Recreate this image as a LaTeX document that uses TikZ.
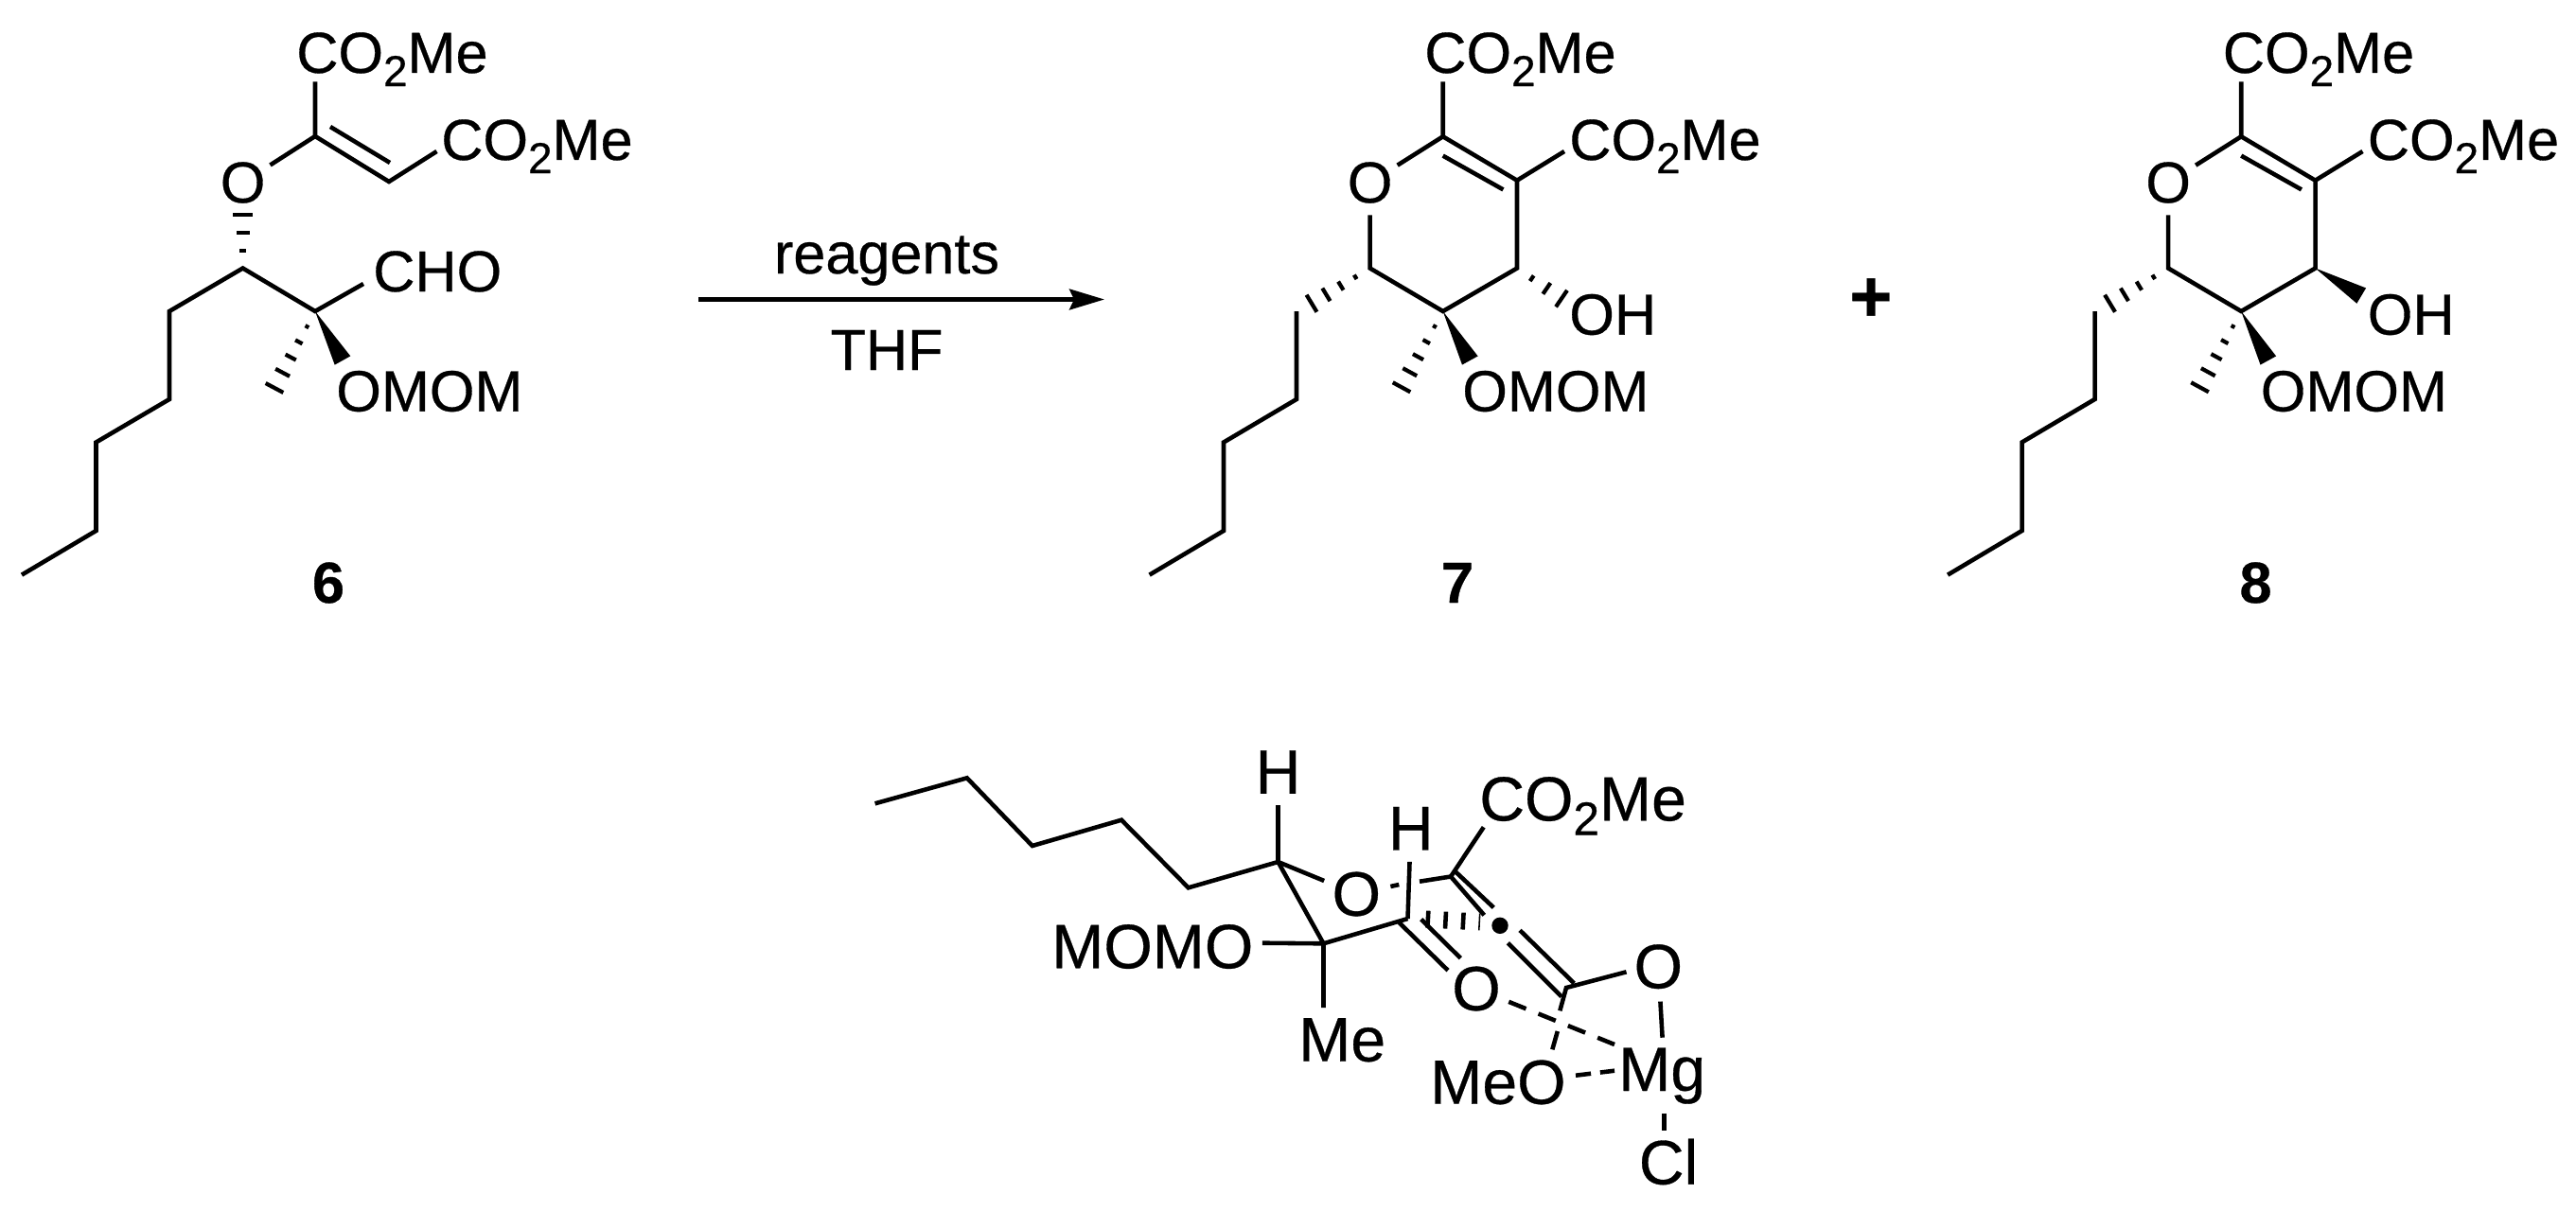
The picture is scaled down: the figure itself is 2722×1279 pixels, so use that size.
\documentclass[tikz,border=0pt]{standalone}
\usepackage{fontspec}
\usepackage{tikz}
\usetikzlibrary{calc,arrows.meta}
\setmainfont{Liberation Sans}[FakeBold=.5]
\tikzstyle{lab}=[anchor=base west,inner sep=0pt,font=\fontsize{17.4}{20}\selectfont]
\tikzstyle{atm}=[circle,inner sep=0pt,font=\fontsize{17.4}{20}\selectfont]
\tikzstyle{num}=[inner sep=0pt,font=\fontsize{17.4}{20}\selectfont\bfseries]
\tikzstyle{biglab}=[anchor=base west,inner sep=0pt,font=\fontsize{18.8}{22}\selectfont]
\tikzstyle{bigatm}=[circle,inner sep=0pt,font=\fontsize{18.8}{22}\selectfont]
\tikzstyle{dashbond}=[dash pattern=on 5.6pt off 4pt]
\newcommand{\cotwo}{CO\raisebox{-.23em}{\scalebox{.75}{2}}Me}
% hashed bond, #3 bars growing from #1 up to #2
\newcommand{\hashbond}[3]{\foreach \i in {1,...,#3} {
    \pgfmathsetmacro{\f}{\i/#3}
    \pgfmathsetmacro{\w}{\f*3}
    \draw[line width=1.2pt] ($(#1)!\f!(#2)!\w pt!90:(#1)$) -- ($(#1)!\f!(#2)!\w pt!-90:(#1)$);
  }}
\newcommand{\wedgebond}[2]{\fill (#1) -- ($(#2)!2.7pt!90:(#1)$) -- ($(#2)!2.7pt!-90:(#1)$) -- cycle;}

\begin{document}
\begin{tikzpicture}[x=.01cm,y=-.01cm,line width=1.3pt]
  \useasboundingbox (0,0) rectangle (2722,1279);

  % compound 6
  \coordinate (a1) at (333,144);
  \coordinate (a2) at (411,192);
  \coordinate (a3) at (256.6,283.5);
  \coordinate (a4) at (333,329);
  \coordinate (a5) at (179,329);
  \coordinate (a6) at (179,422);
  \coordinate (a7) at (101.5,467.5);
  \coordinate (a8) at (101.5,561);
  \coordinate (a9) at (23,607.6);
  \coordinate (atop) at (333,86.5);
  \coordinate (aright) at (461.5,160);
  \coordinate (acho) at (384,300);
  \coordinate (ame) at (290,410);
  \coordinate (aomom) at (362,381);
  \coordinate (ain1) at (349,134);
  \coordinate (ain2) at (412,172);
  \node[atm] (ao) at (256.6,193) {O};
  \node[lab] (aco1) at (311,77) {\cotwo};
  \node[lab] (aco2) at (464,169) {\cotwo};
  \node[lab] (atcho) at (392,308) {CHO};
  \node[lab] (atomom) at (353,434.6) {OMOM};
  \node[num] (n6) at (347,616) {6};
  \draw (atop) -- (a1) -- (a2) -- (aright);
  \draw (ain1) -- (ain2);
  \draw (a1) -- (ao);
  \draw (acho) -- (a4) -- (a3) -- (a5) -- (a6) -- (a7) -- (a8) -- (a9);
  \hashbond{a3}{ao.south}{3}
  \hashbond{a4}{ame}{5}
  \wedgebond{a4}{aomom}

  % compounds 7 and 8
  \foreach \p/\dx/\lab in {r/0/7,s/843.5/8} {
    \begin{scope}[shift={(\dx,0)},name prefix=\p-]
      \coordinate (c1) at (1524.7,144.3);
      \coordinate (c2) at (1603,190.7);
      \coordinate (c3) at (1603,283.5);
      \coordinate (c4) at (1524.7,329);
      \coordinate (c5) at (1447.6,283.5);
      \coordinate (c6) at (1370,329);
      \coordinate (c7) at (1370,422);
      \coordinate (c8) at (1293,467.5);
      \coordinate (c9) at (1293,561);
      \coordinate (c10) at (1214.6,607.6);
      \coordinate (top) at (1524.7,86.5);
      \coordinate (right) at (1653,160);
      \coordinate (in1) at (1524.7,164.6);
      \coordinate (in2) at (1588.4,200.4);
      \coordinate (hc) at (1386,320.7);
      \coordinate (me) at (1481,409.3);
      \coordinate (omom) at (1553.3,381);
      \coordinate (oh) at (1650,315.6);
      \node[atm] (o) at (1447.6,193) {O};
      \node[lab] (co1) at (1503,77) {\cotwo};
      \node[lab] (co2) at (1656,169) {\cotwo};
      \node[lab] (toh) at (1656,353.6) {OH};
      \node[lab] (tomom) at (1543,434.6) {OMOM};
      \node[num] (num) at (1540,616) {\lab};
      \draw (top) -- (c1) -- (c2) -- (c3) -- (c4) -- (c5) -- (o) -- (c1);
      \draw (c2) -- (right);
      \draw (in1) -- (in2);
      \draw (c6) -- (c7) -- (c8) -- (c9) -- (c10);
      \hashbond{c5}{hc}{4}
      \hashbond{c4}{me}{5}
      \wedgebond{c4}{omom}
    \end{scope}
  }
  \hashbond{r-c3}{r-oh}{3}
  \coordinate (s-ohw) at (2495.2,312.6);
  \wedgebond{s-c3}{s-ohw}

  % arrow
  \coordinate (ar1) at (738,316.5);
  \coordinate (ar2) at (1167,316.5);
  \draw[-{Stealth[length=10.5pt,width=6.2pt,inset=1.4pt]}] (ar1) -- (ar2);
  \node[lab,anchor=base] (reag) at (937,289) {reagents};
  \node[lab,anchor=base] (thf) at (937,391) {THF};
  \node[num,font=\fontsize{22}{24}\selectfont\bfseries] (plus) at (1977,317) {+};

  % transition state
  \coordinate (t0) at (924.6,849.3);
  \coordinate (t1) at (1021.8,822.3);
  \coordinate (t2) at (1090.8,894);
  \coordinate (t3) at (1185,866.7);
  \coordinate (t4) at (1255.7,938.3);
  \coordinate (t5) at (1350.5,911);
  \coordinate (t6) at (1398.5,997.3);
  \coordinate (t7) at (1487.5,971);
  \coordinate (t8) at (1533,926.5);
  \coordinate (t9) at (1655,1044);
  \coordinate (tdot) at (1585,978.3);
  \coordinate (tmomo) at (1333.8,996.7);
  \coordinate (tme) at (1398.5,1065);
  \coordinate (tco) at (1567.7,874.3);
  \node[bigatm] (th1) at (1350.5,816) {H};
  \node[bigatm] (th2) at (1490.7,875.7) {H};
  \node[bigatm] (to1) at (1433.3,945) {O};
  \node[bigatm] (to2) at (1560,1045) {O};
  \node[bigatm] (to3) at (1752.3,1021.7) {O};
  \node[biglab] (ttmomo) at (1109,1023.3) {MOMO};
  \node[biglab] (ttme) at (1370,1121.7) {Me};
  \node[biglab] (ttco) at (1561,867.3) {\cotwo};
  \node[biglab] (tmg) at (1708,1153) {Mg};
  \node[biglab] (tmeo) at (1509,1166.7) {MeO};
  \node[bigatm] (tcl) at (1763,1228) {Cl};
  \draw (t0) -- (t1) -- (t2) -- (t3) -- (t4) -- (t5) -- (t6) -- (t7);
  \draw (t5) -- (th1);
  \draw (t5) -- (to1);
  \draw (tmomo) -- (t6) -- (tme);
  \draw (t7) -- (th2);
  \draw (t8) -- (tco);
  % C=O and the two C=C parts
  \coordinate (d1) at (1478.3,975);
  \coordinate (d2) at (1530,1025.7);
  \coordinate (d3) at (1501.7,971.7);
  \coordinate (d4) at (1543.3,1012.7);
  \draw (d1) -- (d2);
  \draw (d3) -- (d4);
  \coordinate (e1) at (1568.3,967.3);
  \coordinate (e2) at (1538.3,921.7);
  \coordinate (e3) at (1578.3,959.3);
  \coordinate (e4) at (1593.3,996.7);
  \coordinate (e5) at (1650,1053.3);
  \coordinate (e6) at (1606,983.3);
  \coordinate (e7) at (1663.3,1039.3);
  \draw (t8) -- (e1);
  \draw (e2) -- (e3);
  \draw (e4) -- (e5);
  \draw (e6) -- (e7);
  \fill (tdot) circle (8.7);
  % forming bond, bars of one length
  \coordinate (k1) at (1506.6,971.5);
  \coordinate (k2) at (1564,974.5);
  \draw[line width=5.1pt,dash pattern=on 1.3pt off 4pt] (k1) -- (k2);
  % O to the ester carbon, broken where it passes H
  \coordinate (f1) at (1478.3,935);
  \coordinate (f2) at (1500,931.7);
  \draw (to1) -- (f1);
  \draw (f2) -- (t8);
  % around Mg
  \coordinate (g1) at (1718.5,1027.3);
  \coordinate (g2) at (1648.3,1068.3);
  \coordinate (g3) at (1645.8,1090);
  \coordinate (g4) at (1640.3,1109.3);
  \coordinate (g5) at (1756.6,1096.7);
  \coordinate (g6) at (1706,1104);
  \coordinate (g7) at (1665,1136.7);
  \coordinate (g8) at (1706,1131.7);
  \coordinate (g9) at (1758.5,1176.7);
  \coordinate (g10) at (1758.5,1195);
  \draw (g1) -- (t9) -- (g2);
  \draw (g3) -- (g4);
  \draw (to3) -- (g5);
  \draw[dashbond] (to2) -- (g6);
  \draw[dash pattern=on 4.6pt off 2.8pt] (g7) -- (g8);
  \draw (g9) -- (g10);
\end{tikzpicture}
\end{document}
